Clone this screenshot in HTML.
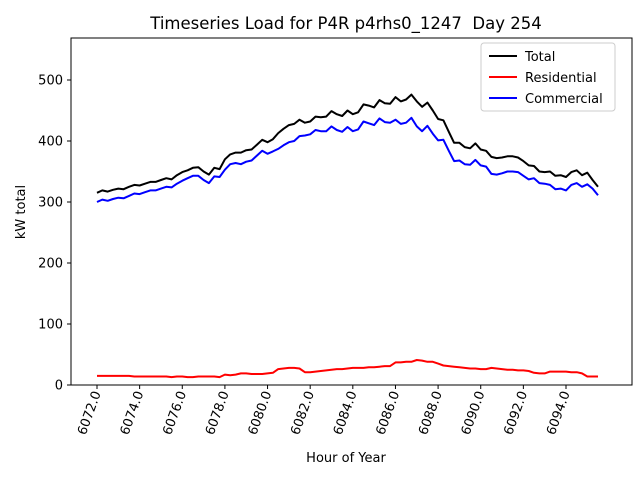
<!DOCTYPE html>
<html><head><meta charset="utf-8"><style>
body{margin:0;background:#fff;font-family:"DejaVu Sans","Liberation Sans",sans-serif;}
svg text{font-family:"DejaVu Sans","Liberation Sans",sans-serif;}
</style></head><body>
<svg id="chart" width="640" height="480" xmlns="http://www.w3.org/2000/svg">
<rect width="640" height="480" fill="#fff"/>
<text x="346" y="29" font-size="16.5" text-anchor="middle">Timeseries Load for P4R p4rhs0_1247&#160; Day 254</text>
<g id="plot"></g>
<rect x="71" y="38" width="561" height="347" fill="none" stroke="#000" stroke-width="1"/>
<text transform="translate(25,212) rotate(-90)" font-size="13" text-anchor="middle">kW total</text>
<text x="346" y="462" font-size="13" text-anchor="middle">Hour of Year</text>
<g>
<rect x="481" y="43" width="134" height="68" rx="3" fill="#fff" stroke="#ccc"/>
<line x1="489" y1="56" x2="517" y2="56" stroke="#000" stroke-width="2"/>
<text x="525" y="61" font-size="13">Total</text>
<line x1="489" y1="77" x2="517" y2="77" stroke="red" stroke-width="2"/>
<text x="525" y="82" font-size="13">Residential</text>
<line x1="489" y1="98" x2="517" y2="98" stroke="blue" stroke-width="2"/>
<text x="525" y="103" font-size="13">Commercial</text>
</g>
</svg>
<script>
const startHour = 6072;
const stepHour = 0.25;
const total = [315,319,317,320,322,321,325,328,327,330,333,333,336,339,337,344,
349,352,356,357,350,345,356,354,370,378,381,381,385,386,394,402,
398,403,413,420,426,428,435,430,432,440,439,440,449,444,441,450,
444,447,460,458,455,467,462,461,472,465,468,476,465,456,463,450,
436,434,415,397,397,390,388,396,386,384,374,372,373,375,375,373,
367,360,359,350,349,350,343,344,341,349,352,344,348,336,325];
const residential = [15,15,15,15,15,15,15,14,14,14,14,14,14,14,13,14,
14,13,13,14,14,14,14,13,17,16,17,19,19,18,18,18,
19,20,26,27,28,28,27,21,21,22,23,24,25,26,26,27,
28,28,28,29,29,30,31,31,37,37,38,38,41,40,38,38,
35,32,31,30,29,28,27,27,26,26,28,27,26,25,25,24,
24,23,20,19,19,22,22,22,22,21,21,19,14,14,14];
const commercial = [300,304,302,305,307,306,310,314,313,316,319,319,322,325,324,330,
335,339,343,343,336,331,342,341,353,362,364,362,366,368,376,384,
379,383,387,393,398,400,408,409,411,418,416,416,424,418,415,423,
416,419,432,429,426,437,431,430,435,428,430,438,424,416,425,412,
401,402,384,367,368,362,361,369,360,358,346,345,347,350,350,349,
343,337,339,331,330,328,321,322,319,328,331,325,329,322,311];
const yTicks = [0,100,200,300,400,500];
const xTicks = [6072,6074,6076,6078,6080,6082,6084,6086,6088,6090,6092,6094];

const NS="http://www.w3.org/2000/svg";
const xs = h => 97 + (h-6072)*(566-97)/22;
const ys = v => 385 - v*0.61;
const g = document.getElementById('plot');
function mk(t,a){const e=document.createElementNS(NS,t);for(const k in a)e.setAttribute(k,a[k]);g.appendChild(e);return e;}
yTicks.forEach(v=>{
  const l=mk('line',{x1:67,x2:71,y1:ys(v),y2:ys(v),stroke:'#000'});
  
  
  const t=mk('text',{x:63,y:ys(v)+4.5,'font-size':13,'text-anchor':'end'});
  t.textContent=v;
  
  
});
xTicks.forEach(h=>{
  const x=xs(h);
  const l=mk('line',{x1:x,x2:x,y1:385,y2:389,stroke:'#000'});
  
  
  const t=mk('text',{transform:`translate(${x+4},393) rotate(-70)`,'font-size':13,'text-anchor':'end'});
  t.textContent=h.toFixed(1);
  
  
});
function line(arr,color,name){
  const pts=arr.map((v,i)=>xs(startHour+i*stepHour).toFixed(1)+','+ys(v).toFixed(1)).join(' ');
  const p=mk('polyline',{points:pts,fill:'none',stroke:color,'stroke-width':2,'stroke-linejoin':'round'});
  
  
}
line(total,'#000','total-line');
line(residential,'red','residential-line');
line(commercial,'blue','commercial-line');
</script>
</body></html>
